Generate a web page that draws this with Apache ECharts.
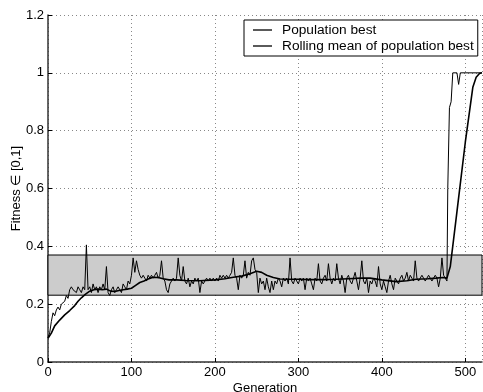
<!DOCTYPE html>
<html><head><meta charset="utf-8">
<script src="https://cdn.jsdelivr.net/npm/echarts@6/dist/echarts.min.js"></script>
<style>html,body{margin:0;padding:0;background:#fff}#c{width:483px;height:392px}</style>
</head><body><div id="c"></div>
<script>
// Population best: generations and values
const bestGens = [0,2,4,6,8,10,12,14,16,18,20,22,24,26,28,30,32,34,36,38,40,42,44,46,48,50,52,54,56,58,60,62,64,66,68,70,72,74,76,78,80,82,84,86,88,90,92,94,96,98,
100,102,104,106,108,110,112,114,116,118,120,122,124,126,128,130,132,134,136,138,140,142,144,146,148,150,152,154,156,158,160,162,164,166,168,170,172,174,176,178,180,182,184,186,188,190,192,194,196,198,
200,202,204,206,208,210,212,214,216,218,220,222,224,226,228,230,232,234,236,238,240,242,244,246,248,250,252,254,256,258,260,262,264,266,268,270,272,274,276,278,280,282,284,286,288,290,292,294,296,298,
300,302,304,306,308,310,312,314,316,318,320,322,324,326,328,330,332,334,336,338,340,342,344,346,348,350,352,354,356,358,360,362,364,366,368,370,372,374,376,378,380,382,384,386,388,390,392,394,396,398,
400,402,404,406,408,410,412,414,416,418,420,422,424,426,428,430,432,434,436,438,440,442,444,446,448,450,452,454,456,458,460,462,464,466,468,470,472,474,476,478,
479,481,483,485,490,492,494,520];
const bestVals = [0.085,0.10,0.14,0.17,0.16,0.18,0.19,0.18,0.20,0.20,0.21,0.23,0.22,0.25,0.26,0.25,0.25,0.24,0.26,0.25,0.24,0.26,0.25,0.405,0.25,0.26,0.24,0.27,0.25,0.26,0.24,0.26,0.25,0.27,0.25,0.33,0.24,0.23,0.25,0.26,0.24,0.25,0.26,0.25,0.24,0.27,0.26,0.25,0.28,0.27,
0.30,0.36,0.31,0.35,0.32,0.30,0.29,0.30,0.29,0.28,0.30,0.29,0.30,0.29,0.30,0.31,0.29,0.30,0.35,0.29,0.28,0.25,0.24,0.27,0.28,0.29,0.28,0.29,0.36,0.30,0.28,0.33,0.28,0.27,0.29,0.26,0.28,0.27,0.29,0.28,0.29,0.24,0.28,0.27,0.28,0.29,0.28,0.29,0.28,0.29,
0.28,0.29,0.28,0.30,0.29,0.30,0.29,0.30,0.29,0.30,0.31,0.36,0.30,0.29,0.25,0.30,0.29,0.30,0.35,0.29,0.31,0.30,0.35,0.36,0.32,0.31,0.24,0.29,0.27,0.28,0.25,0.29,0.26,0.24,0.28,0.25,0.28,0.27,0.29,0.28,0.26,0.29,0.28,0.29,0.27,0.36,0.28,0.27,0.29,0.28,
0.27,0.29,0.28,0.29,0.25,0.29,0.28,0.29,0.27,0.25,0.29,0.28,0.34,0.28,0.27,0.29,0.30,0.28,0.34,0.29,0.27,0.29,0.28,0.34,0.29,0.27,0.30,0.28,0.24,0.29,0.30,0.28,0.27,0.29,0.31,0.28,0.25,0.29,0.35,0.28,0.27,0.29,0.24,0.28,0.27,0.29,0.28,0.26,0.33,0.27,
0.25,0.28,0.26,0.24,0.28,0.30,0.27,0.25,0.29,0.28,0.27,0.29,0.30,0.28,0.29,0.31,0.28,0.30,0.29,0.28,0.35,0.29,0.28,0.29,0.30,0.29,0.28,0.29,0.30,0.29,0.28,0.29,0.30,0.29,0.26,0.29,0.36,0.30,0.29,0.28,
0.60,0.88,0.90,1.0,1.0,0.96,1.0,1.0];
// Rolling mean of population best
const meanGens = [0,4,8,14,20,26,32,36,40,45,50,55,60,65,70,75,80,85,90,95,100,105,110,115,120,126,132,138,145,154,165,182,200,212,222,232,242,250,256,262,270,278,290,300,315,330,345,360,375,386,400,417,430,441,455,465,473,478,482,490,500,509,513,517,520];
const meanVals = [0.082,0.10,0.125,0.145,0.163,0.178,0.195,0.21,0.222,0.235,0.245,0.25,0.252,0.25,0.252,0.245,0.244,0.247,0.25,0.252,0.255,0.265,0.275,0.28,0.287,0.293,0.292,0.288,0.284,0.284,0.282,0.281,0.284,0.288,0.293,0.297,0.305,0.314,0.31,0.3,0.292,0.287,0.286,0.286,0.285,0.285,0.286,0.288,0.29,0.29,0.284,0.278,0.281,0.286,0.288,0.29,0.292,0.29,0.33,0.52,0.76,0.95,0.985,0.998,1.0];
// Shaded band limits
const bandLow = 0.231, bandHigh = 0.37;
const xTicks = [0,100,200,300,400,500];
const yTicks = [0,0.2,0.4,0.6,0.8,1,1.2];

const chart = echarts.init(document.getElementById('c'), null, {renderer:'canvas'});
const font = 'Liberation Sans, Arial, Helvetica, sans-serif';
const gridLine = {show:true, lineStyle:{color:'#888', type:[1,3], width:1}};
chart.setOption({
  animation:false,
  backgroundColor:'#fff',
  grid:{left:48, right:1, top:15, bottom:30, containLabel:false, outerBoundsMode:'none'},
  legend:{
    orient:'vertical', left:244, top:20, padding:[3,4,3,9],
    backgroundColor:'#fff', borderColor:'#000', borderWidth:1, borderRadius:0,
    icon:'rect', itemWidth:19, itemHeight:1.3, itemGap:2,
    textStyle:{fontFamily:font, fontSize:13.7, color:'#000', padding:[0,0,0,5]},
    data:['Population best','Rolling mean of population best']
  },
  xAxis:{
    type:'value', min:0, max:520, interval:100,
    name:'Generation', nameLocation:'middle', nameGap:20, nameMoveOverlap:false,
    nameTextStyle:{fontFamily:font, fontSize:13, color:'#000'},
    axisLine:{show:true, lineStyle:{color:'#333', width:1.5}},
    axisTick:{show:true, inside:true, length:4, lineStyle:{color:'#000'}},
    axisLabel:{fontFamily:font, fontSize:13, color:'#000', margin:4, showMaxLabel:false,
      formatter:v => xTicks.includes(v) ? String(v) : ''},
    splitLine:gridLine
  },
  yAxis:{
    type:'value', min:0, max:1.2, interval:0.2,
    name:'Fitness \u2208 [0,1]', nameLocation:'middle', nameGap:25, nameMoveOverlap:false,
    nameTextStyle:{fontFamily:font, fontSize:13, color:'#000'},
    axisLine:{show:true, lineStyle:{color:'#333', width:1.5}},
    axisTick:{show:true, inside:true, length:4, lineStyle:{color:'#000'}},
    axisLabel:{fontFamily:font, fontSize:13, color:'#000', margin:4,
      formatter:v => { const t = yTicks.find(k => Math.abs(k - v) < 1e-9); return t === undefined ? '' : String(t); }},
    splitLine:gridLine
  },
  series:[
    {name:'band', type:'line', data:[], z:1, silent:true,
     markArea:{silent:true, itemStyle:{color:'#cccccc', borderColor:'#000', borderWidth:1},
       data:[[{yAxis:bandLow},{yAxis:bandHigh}]]}},
    {name:'Population best', type:'line', showSymbol:false, symbol:'none', z:3,
     lineStyle:{color:'#000', width:1}, itemStyle:{color:'#000'},
     data:bestGens.map((g,i)=>[g,bestVals[i]])},
    {name:'Rolling mean of population best', type:'line', showSymbol:false, symbol:'none', z:4,
     lineStyle:{color:'#000', width:1.6}, itemStyle:{color:'#000'},
     data:meanGens.map((g,i)=>[g,meanVals[i]])}
  ]
});
</script></body></html>
